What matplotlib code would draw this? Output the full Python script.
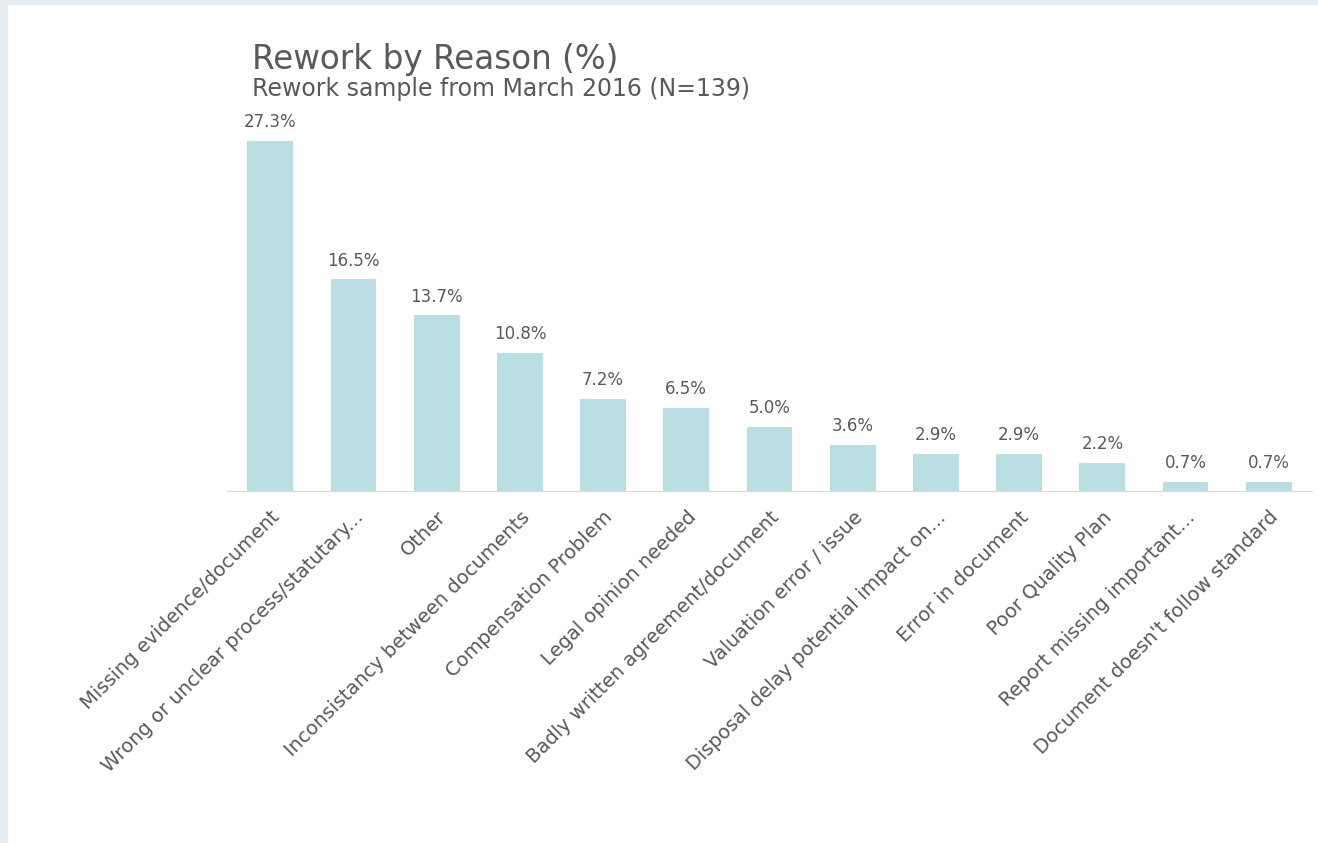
import matplotlib.pyplot as plt
from matplotlib.patches import Rectangle

reasons = [
    "Missing evidence/document",
    "Wrong or unclear process/statutary...",
    "Other",
    "Inconsistancy between documents",
    "Compensation Problem",
    "Legal opinion needed",
    "Badly written agreement/document",
    "Valuation error / issue",
    "Disposal delay potential impact on...",
    "Error in document",
    "Poor Quality Plan",
    "Report missing important...",
    "Document doesn't follow standard",
]
pct = [27.3, 16.5, 13.7, 10.8, 7.2, 6.5, 5.0, 3.6, 2.9, 2.9, 2.2, 0.7, 0.7]

bar_color = "#b9dfe3"
text_color = "#595959"

fig = plt.figure(figsize=(13.18, 8.43), dpi=100)
fig.patch.set_facecolor("white")

# light frame on the left and top edge
fig.add_artist(Rectangle((0, 0), 7 / 1318, 1, transform=fig.transFigure,
                         color="#e6edf3", zorder=0))
fig.add_artist(Rectangle((0, 1 - 4 / 843), 1, 4 / 843, transform=fig.transFigure,
                         color="#e6edf3", zorder=0))

ax = fig.add_axes([227 / 1318, 1 - 491 / 843, 1085 / 1318, 384.6 / 843])
x = range(len(pct))
bars = ax.bar(x, pct, width=0.55, color=bar_color)

for xi, v in zip(x, pct):
    ax.annotate(f"{v:.1f}%", (xi, v), xytext=(0, 7), textcoords="offset points",
                ha="center", va="bottom", fontsize=12, color=text_color)

ax.set_xlim(-0.52, 12.52)
ax.set_ylim(0, 30)
ax.set_xticks(list(x))
ax.set_xticklabels(reasons, rotation=45, ha="right", rotation_mode="anchor",
                   fontsize=14, color=text_color)
ax.tick_params(axis="x", length=0, pad=12)
ax.set_yticks([])
for s in ["top", "right", "left"]:
    ax.spines[s].set_visible(False)
ax.spines["bottom"].set_color("#d9d9d9")
ax.set_facecolor("white")

fig.text(252 / 1318, 1 - 69 / 843, "Rework by Reason (%)", fontsize=23.5,
         color=text_color, va="baseline")
fig.text(252 / 1318, 1 - 96 / 843, "Rework sample from March 2016 (N=139)",
         fontsize=17, color=text_color, va="baseline")

fig.savefig("out.png", dpi=100, facecolor=fig.get_facecolor())
